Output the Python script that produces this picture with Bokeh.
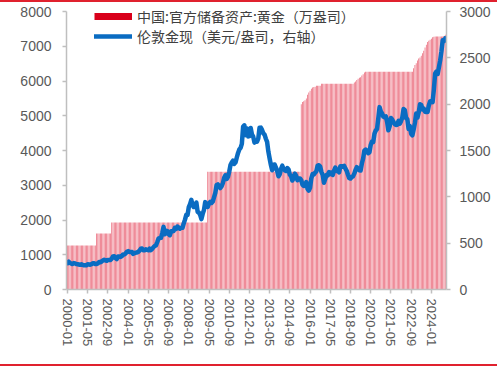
from bokeh.plotting import figure
from bokeh.models import (Range1d, LinearAxis, FixedTicker, Legend, LegendItem,
                          ColumnDataSource)
from bokeh.embed import file_html
from bokeh.resources import INLINE

# ---------------- data ----------------
years = list(range(2000, 2025))
months = [f"{y}-{m:02d}" for y in years for m in range(1, 13)]

tick_labels = ["2000-01", "2001-05", "2002-09", "2004-01", "2005-05", "2006-09",
               "2008-01", "2009-05", "2010-09", "2012-01", "2013-05", "2014-09",
               "2016-01", "2017-05", "2018-09", "2020-01", "2021-05", "2022-09",
               "2024-01"]

# China official reserve assets: gold (10k oz), monthly
reserves = (
    [1267] * 12 +                                   # 2000
    [1267] * 11 + [1608] +                          # 2001
    [1608] * 11 + [1929] +                          # 2002
    [1929] * 12 * 6 +                               # 2003-2008
    [1929] * 3 + [3389] * 9 +                       # 2009
    [3389] * 12 * 5 +                               # 2010-2014
    [3389] * 5 + [5332, 5393, 5415, 5447, 5493, 5605, 5666] +        # 2015
    [5719, 5779, 5813, 5829, 5837, 5862, 5862, 5862, 5862, 5924, 5924, 5924] +  # 2016
    [5924] * 12 +                                   # 2017
    [5924] * 11 + [5956] +                          # 2018
    [5985, 6026, 6062, 6092, 6111, 6161, 6194, 6245, 6264, 6264, 6264, 6264] +  # 2019
    [6264] * 24 +                                   # 2020-2021
    [6264] * 10 + [6367, 6464] +                    # 2022
    [6512, 6592, 6650, 6676, 6727, 6795, 6869, 6962, 7046, 7120, 7158, 7187] +  # 2023
    [7219, 7258, 7274, 7280, 7280, 7280, 7280, 7280, 7280, 7280, 7296, 7329]    # 2024
)

# London gold spot (USD/oz), monthly
gold = [
    284, 300, 286, 280, 275, 285, 282, 274, 273, 270, 266, 272,          # 2000
    266, 262, 263, 261, 272, 270, 268, 273, 284, 283, 276, 276,          # 2001
    282, 296, 294, 302, 314, 321, 314, 310, 319, 317, 319, 333,          # 2002
    357, 359, 340, 328, 356, 356, 351, 360, 379, 379, 389, 407,          # 2003
    414, 405, 406, 404, 384, 392, 398, 400, 406, 420, 439, 442,          # 2004
    424, 423, 434, 429, 423, 440, 425, 438, 456, 470, 476, 510,          # 2005
    549, 555, 557, 610, 676, 596, 633, 632, 598, 586, 628, 629,          # 2006
    631, 665, 655, 680, 668, 656, 666, 666, 713, 754, 806, 803,          # 2007
    889, 922, 968, 909, 889, 890, 939, 839, 830, 806, 760, 816,          # 2008
    858, 943, 925, 890, 928, 946, 934, 949, 996, 1043, 1127, 1134,       # 2009
    1118, 1095, 1114, 1149, 1205, 1232, 1193, 1215, 1271, 1343, 1370, 1391,  # 2010
    1356, 1372, 1424, 1474, 1512, 1529, 1572, 1756, 1772, 1666, 1739, 1652,  # 2011
    1656, 1743, 1674, 1650, 1585, 1596, 1594, 1630, 1745, 1747, 1722, 1685,  # 2012
    1671, 1627, 1593, 1487, 1414, 1343, 1287, 1347, 1349, 1316, 1276, 1222,  # 2013
    1244, 1300, 1336, 1299, 1287, 1279, 1311, 1296, 1239, 1222, 1176, 1201,  # 2014
    1251, 1227, 1179, 1198, 1199, 1181, 1131, 1117, 1125, 1159, 1086, 1068,  # 2015
    1097, 1200, 1246, 1242, 1261, 1276, 1337, 1341, 1326, 1267, 1238, 1152,  # 2016
    1192, 1234, 1231, 1267, 1246, 1260, 1236, 1283, 1315, 1280, 1282, 1265,  # 2017
    1331, 1331, 1325, 1335, 1304, 1281, 1238, 1202, 1198, 1215, 1221, 1250,  # 2018
    1291, 1320, 1301, 1286, 1284, 1359, 1413, 1500, 1510, 1495, 1471, 1480,  # 2019
    1560, 1597, 1592, 1683, 1716, 1732, 1846, 1968, 1921, 1900, 1866, 1858,  # 2020
    1867, 1808, 1718, 1760, 1850, 1834, 1807, 1785, 1775, 1777, 1820, 1790,  # 2021
    1817, 1856, 1947, 1937, 1849, 1837, 1733, 1764, 1681, 1664, 1726, 1798,  # 2022
    1898, 1855, 1912, 1999, 1992, 1943, 1951, 1918, 1916, 1916, 1986, 2030,  # 2023
    2034, 2023, 2158, 2331, 2351, 2326, 2398, 2472, 2571, 2690, 2680, 2710,  # 2024
]

left_ticks = [0, 1000, 2000, 3000, 4000, 5000, 6000, 7000, 8000]
right_ticks = [0, 500, 1000, 1500, 2000, 2500, 3000]

label_res = "中国:官方储备资产:黄金（万盎司）"
label_gold = "伦敦金现（美元/盎司，右轴）"

# ---------------- plot ----------------
xs = list(range(len(months)))
src = ColumnDataSource(dict(x=xs, res=reserves, gold=gold, m=months))

RED = "#d9001b"
BLUE = "#0a6cc2"
GRAY_AX = "#bfbfbf"
GRAY_TXT = "#595959"

p = figure(width=497, height=368, output_backend="svg", toolbar_location=None,
           x_range=Range1d(-0.8, 300.0), y_range=Range1d(0, 8000),
           min_border_left=66, min_border_right=51, min_border_top=11,
           min_border_bottom=79, border_fill_color=None,
           outline_line_color=None,
           styles={"box-shadow": "inset 0 2px 0 0 #e0212e, inset 0 -2px 0 0 #ffffff, inset 0 -4px 0 0 #e0212e"})
p.xgrid.visible = False
p.ygrid.visible = False

p.extra_y_ranges = {"right": Range1d(0, 3000)}

bars = p.vbar(x="x", top="res", width=0.55, source=src,
              fill_color="#e85a6d", line_color=None)
gl = p.line(x="x", y="gold", source=src, y_range_name="right",
            line_color=BLUE, line_width=4.5, line_join="round", line_cap="round")
# legend-only swatch for the reserve bars (no visible data)
dummy = p.line(x=[float("nan")], y=[float("nan")], line_color=RED, line_width=7)

ax_r = LinearAxis(y_range_name="right")
p.add_layout(ax_r, "right")

tick_pos = [months.index(t) for t in tick_labels]
p.xaxis.ticker = FixedTicker(ticks=tick_pos)
p.xaxis.major_label_overrides = {i: t for i, t in zip(tick_pos, tick_labels)}
p.xaxis.major_label_orientation = "vertical"
p.xaxis.major_label_text_font_size = "13px"
p.xaxis.major_label_standoff = 5

p.yaxis[0].ticker = FixedTicker(ticks=left_ticks)
p.yaxis[0].major_label_standoff = 11
ax_r.ticker = FixedTicker(ticks=right_ticks)
ax_r.major_label_standoff = 9

for ax in [p.xaxis[0], p.yaxis[0], ax_r]:
    ax.axis_line_color = GRAY_AX
    ax.axis_line_width = 1.5
    ax.major_tick_line_color = GRAY_AX
    ax.major_tick_line_width = 1.5
    ax.major_tick_out = 4
    ax.major_tick_in = 0
    ax.minor_tick_line_color = None
    ax.major_label_text_color = GRAY_TXT
    ax.major_label_text_font = "Liberation Sans"
p.yaxis[0].major_label_text_font_size = "14px"
ax_r.major_label_text_font_size = "14px"

legend = Legend(items=[LegendItem(label=label_res, renderers=[dummy]),
                       LegendItem(label=label_gold, renderers=[gl])],
                location=(28, 243), border_line_color=None,
                background_fill_alpha=0, padding=0, margin=0, spacing=-4,
                glyph_width=38, glyph_height=14, label_height=14,
                label_standoff=5, label_text_font="Noto Sans CJK SC",
                label_text_font_size="14px", label_text_color="#404040")
p.add_layout(legend)

open("out.html", "w").write(file_html(p, INLINE))
